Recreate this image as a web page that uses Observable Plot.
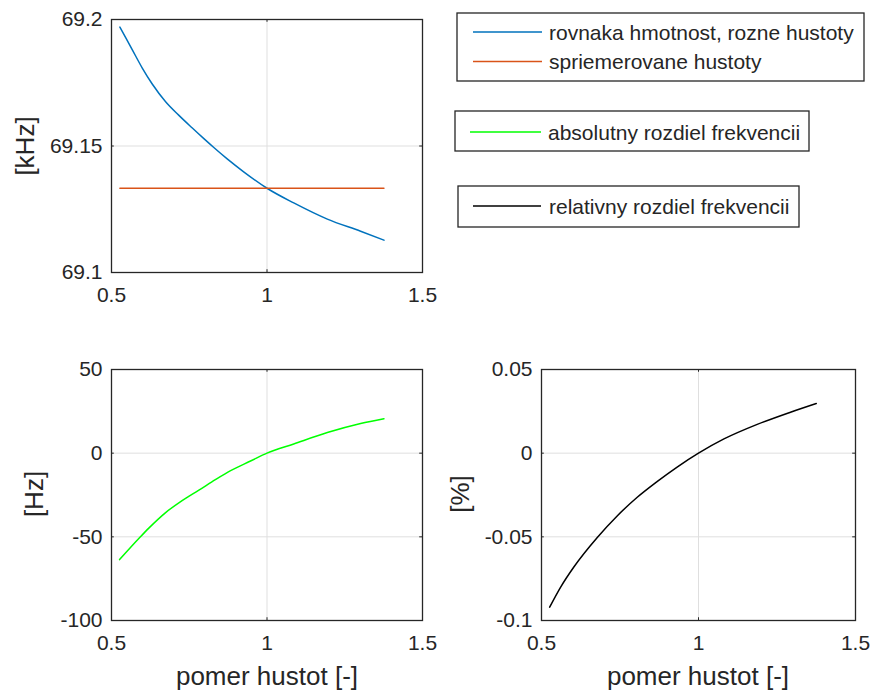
<!DOCTYPE html>
<html>
<head>
<meta charset="utf-8">
<script src="https://cdn.jsdelivr.net/npm/d3@7"></script>
<script src="https://cdn.jsdelivr.net/npm/@observablehq/plot@0.6"></script>
<style>
  body { margin: 0; background: #fff; }
  #fig { position: relative; width: 870px; height: 693px; overflow: hidden; background: #fff;
         font-family: "Liberation Sans", Arial, Helvetica, sans-serif; color: #262626; }
  .panel { position: absolute; }
  #overlay { position: absolute; left: 0; top: 0; }
</style>
</head>
<body>
<div id="fig"></div>
<script>
// ---- data ----
const xTicks = [0.5, 1, 1.5];

// top panel: frequency [kHz]
const ratioBlue = [0.527, 0.567, 0.599, 0.631, 0.674, 0.716, 0.759, 0.797, 0.829, 0.872, 0.925, 1.0, 1.086, 1.194, 1.301, 1.376];
const freqBlue  = [69.1970, 69.1880, 69.1808, 69.1745, 69.1675, 69.1622, 69.1572, 69.1529, 69.1494, 69.1449, 69.1398, 69.1333, 69.1275, 69.1211, 69.1163, 69.1128];
const ratioOrange = [0.527, 1.376];
const freqOrange  = [69.1333, 69.1333];
const yTicksTop = [69.1, 69.15, 69.2];

// bottom-left: absolute difference [Hz]
const ratioGreen = [0.526, 0.561, 0.593, 0.620, 0.674, 0.727, 0.781, 0.834, 0.883, 0.947, 1.0, 1.086, 1.194, 1.301, 1.376];
const diffAbs    = [-63.6, -56.4, -50.0, -44.8, -35.5, -28.3, -22.1, -15.8, -10.4, -4.7, 0, 5.5, 12.3, 17.7, 20.6];
const yTicksAbs = [-100, -50, 0, 50];

// bottom-right: relative difference [%]
const ratioBlack = [0.526, 0.561, 0.603, 0.677, 0.741, 0.804, 0.868, 0.932, 1.0, 1.081, 1.187, 1.293, 1.375];
const diffRel    = [-0.0920, -0.0800, -0.0680, -0.0505, -0.0375, -0.0265, -0.0170, -0.0083, 0, 0.0085, 0.0172, 0.0245, 0.0297];
const yTicksRel = [-0.1, -0.05, 0, 0.05];

const legendTop = ["rovnaka hmotnost, rozne hustoty", "spriemerovane hustoty"];
const legendAbs = ["absolutny rozdiel frekvencii"];
const legendRel = ["relativny rozdiel frekvencii"];
const xLabel = "pomer hustot [-]";
const yLabels = ["[kHz]", "[Hz]", "[%]"];

const colors = { blue: "#0072BD", orange: "#D95319", green: "#00FF00", black: "#000000" };
const FONT = '"Liberation Sans", Arial, Helvetica, sans-serif';
const INK = "#262626";
const GRID = "#dfdfdf";

const zip = (xs, ys) => xs.map((x, i) => ({x, y: ys[i]}));

function panel({left, top, width, height, mL, mR, mT, mB, yDomain, yTicks, series}) {
  const span = yDomain[1] - yDomain[0];
  const p = Plot.plot({
    width, height,
    marginLeft: mL, marginRight: mR, marginTop: mT, marginBottom: mB,
    x: {domain: [0.5, 1.5]},
    y: {domain: yDomain},
    style: {fontFamily: FONT, fontSize: "21px", color: INK, background: "white", overflow: "visible"},
    marks: [
      Plot.gridX(xTicks, {stroke: GRID, strokeOpacity: 1, strokeWidth: 1}),
      Plot.gridY(yTicks, {stroke: GRID, strokeOpacity: 1, strokeWidth: 1}),
      // inward tick marks (MATLAB style)
      Plot.ruleY(yTicks, {y: d => d, x1: 0.5, x2: 0.509, stroke: INK}),
      Plot.ruleY(yTicks, {y: d => d, x1: 1.491, x2: 1.5, stroke: INK}),
      Plot.ruleX(xTicks, {x: d => d, y1: yDomain[0], y2: yDomain[0] + span * 0.011, stroke: INK}),
      Plot.ruleX(xTicks, {x: d => d, y1: yDomain[1] - span * 0.011, y2: yDomain[1], stroke: INK}),
      Plot.axisX(xTicks, {tickSize: 0, tickPadding: 15, label: null, tickFormat: d => String(d), fontSize: 21, fill: INK}),
      Plot.axisY(yTicks, {tickSize: 0, tickPadding: 9, label: null, tickFormat: d => String(d), fontSize: 21, fill: INK}),
      ...series.map(s => Plot.line(zip(s.xs, s.ys), {x: "x", y: "y", stroke: s.color, strokeWidth: 1.5, curve: "monotone-x"})),
      Plot.frame({stroke: INK, strokeWidth: 1.3})
    ]
  });
  p.classList.add("panel");
  p.style.left = left + "px";
  p.style.top = top + "px";
  return p;
}

const fig = document.getElementById("fig");

fig.appendChild(panel({
  left: 0, top: 0, width: 440, height: 320, mL: 111, mR: 18, mT: 19, mB: 48,
  yDomain: [69.1, 69.2], yTicks: yTicksTop,
  series: [
    {xs: ratioBlue, ys: freqBlue, color: colors.blue},
    {xs: ratioOrange, ys: freqOrange, color: colors.orange}
  ]
}));

fig.appendChild(panel({
  left: 0, top: 350, width: 440, height: 343, mL: 111, mR: 18, mT: 19, mB: 73,
  yDomain: [-100, 50], yTicks: yTicksAbs,
  series: [{xs: ratioGreen, ys: diffAbs, color: colors.green}]
}));

fig.appendChild(panel({
  left: 440, top: 350, width: 430, height: 343, mL: 101, mR: 15, mT: 19, mB: 73,
  yDomain: [-0.1, 0.05], yTicks: yTicksRel,
  series: [{xs: ratioBlack, ys: diffRel, color: colors.black}]
}));

// overlay: axis labels and legends
const svg = d3.select(fig).append("svg")
  .attr("id", "overlay").attr("width", 870).attr("height", 693)
  .style("pointer-events", "none")
  .attr("font-family", FONT).attr("fill", INK);

// y labels (rotated)
[[yLabels[0], 25, 146], [yLabels[1], 34, 494], [yLabels[2], 460, 494]].forEach(([t, cx, cy]) => {
  svg.append("text").attr("transform", `translate(${cx},${cy}) rotate(-90)`)
    .attr("text-anchor", "middle").attr("dominant-baseline", "central")
    .attr("font-size", 26).text(t);
});
// x labels
[267, 698].forEach(cx => {
  svg.append("text").attr("x", cx).attr("y", 685).attr("text-anchor", "middle")
    .attr("font-size", 26).text(xLabel);
});

// legends
function legend(box, entries) {
  svg.append("rect").attr("x", box.x).attr("y", box.y).attr("width", box.w).attr("height", box.h)
    .attr("fill", "white").attr("stroke", INK).attr("stroke-width", 1.3);
  entries.forEach(e => {
    svg.append("line").attr("x1", box.lx1).attr("x2", box.lx2).attr("y1", e.y).attr("y2", e.y)
      .attr("stroke", e.color).attr("stroke-width", 1.5);
    svg.append("text").attr("x", box.tx).attr("y", e.y).attr("dominant-baseline", "central")
      .attr("font-size", 21).text(e.label);
  });
}
legend({x: 457, y: 13, w: 407, h: 68, lx1: 473, lx2: 542, tx: 549},
  [{label: legendTop[0], color: colors.blue, y: 32},
   {label: legendTop[1], color: colors.orange, y: 61.5}]);
legend({x: 455, y: 111, w: 354, h: 40, lx1: 470, lx2: 541, tx: 548},
  [{label: legendAbs[0], color: colors.green, y: 132}]);
legend({x: 458, y: 186, w: 341, h: 41, lx1: 473, lx2: 541, tx: 549},
  [{label: legendRel[0], color: colors.black, y: 206}]);
</script>
</body>
</html>
